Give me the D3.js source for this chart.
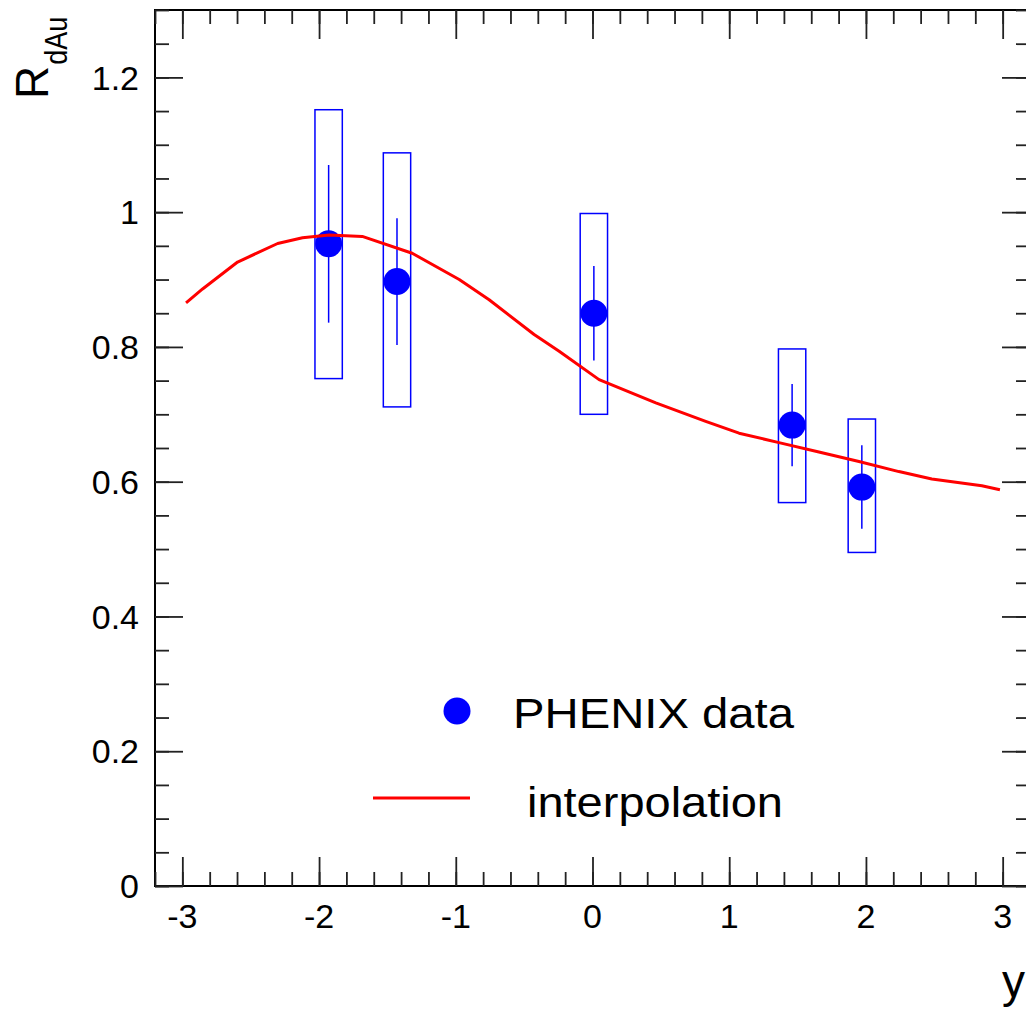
<!DOCTYPE html>
<html>
<head>
<meta charset="utf-8">
<script src="https://d3js.org/d3.v7.min.js"></script>
<style>
  html, body { margin: 0; padding: 0; background: #fff; }
  svg { display: block; }
  text { font-family: "Liberation Sans", Arial, Helvetica, sans-serif; }
</style>
</head>
<body>
<svg id="chart" width="1026" height="1011"></svg>
<script>
// ---- data ----
const dataY     = [-1.93, -1.43, 0.01, 1.46, 1.97];
const dataR     = [0.953, 0.897, 0.850, 0.684, 0.592];
const statErr   = [0.117, 0.094, 0.070, 0.061, 0.062];
const sysLow    = [0.753, 0.711, 0.700, 0.569, 0.495];
const sysHigh   = [1.152, 1.088, 0.998, 0.797, 0.693];
const sysHalfWidth = 0.1;

const curveY = [-2.973, -2.852, -2.596, -2.303, -2.121, -1.925, -1.684, -1.319, -0.975, -0.756,
                -0.427, -0.244, 0.048, 0.463, 0.828, 1.072, 1.364, 1.656, 1.949, 2.241,
                2.482, 2.848, 2.980];
const curveR = [0.8655, 0.886, 0.926, 0.9535, 0.962, 0.966, 0.964, 0.939, 0.900, 0.870,
                0.8185, 0.7935, 0.7515, 0.717, 0.6896, 0.672, 0.658, 0.644, 0.630, 0.615,
                0.604, 0.594, 0.588];

const xMajorTicks = [-3, -2, -1, 0, 1, 2, 3];
const xTickLabels = ["-3", "-2", "-1", "0", "1", "2", "3"];
const yMajorTicks = [0, 0.2, 0.4, 0.6, 0.8, 1.0, 1.2];
const yTickLabels = ["0", "0.2", "0.4", "0.6", "0.8", "1", "1.2"];
const xMinorTicks = d3.range(-32, 33, 2).map(v => v / 10);
const yMinorTicks = d3.range(0, 27, 1).map(v => v * 0.05);

const legendLabels = ["PHENIX data", "interpolation"];
const xTitle = "y";

// ---- layout ----
const L = 155, R = 1030, T = 10, B = 886;
const x = d3.scaleLinear().domain([-3.2, 3.2]).range([L, R]);
const y = d3.scaleLinear().domain([0, 1.3]).range([B, T]);

const svg = d3.select("#chart");

// frame
svg.append("rect").attr("x", L).attr("y", T).attr("width", R - L).attr("height", B - T)
  .attr("fill", "none").attr("stroke", "#000").attr("stroke-width", 2);

function tickGroup(axisFn, scale, values, size, transform) {
  const g = svg.append("g").attr("transform", transform)
    .call(axisFn(scale).tickValues(values).tickSize(size).tickSizeOuter(0).tickFormat(""));
  g.select(".domain").remove();
  g.selectAll(".tick line").attr("stroke", "#222").attr("stroke-width", 1.8);
  return g;
}
// bottom / top
tickGroup(d3.axisBottom, x, xMinorTicks, -14, `translate(0,${B})`);
tickGroup(d3.axisBottom, x, xMajorTicks, -29, `translate(0,${B})`);
tickGroup(d3.axisTop, x, xMinorTicks, -14, `translate(0,${T})`);
tickGroup(d3.axisTop, x, xMajorTicks, -29, `translate(0,${T})`);
// left / right
tickGroup(d3.axisLeft, y, yMinorTicks, -14, `translate(${L},0)`);
tickGroup(d3.axisLeft, y, yMajorTicks, -28, `translate(${L},0)`);
tickGroup(d3.axisRight, y, yMinorTicks, -14, `translate(${R},0)`);
tickGroup(d3.axisRight, y, yMajorTicks, -28, `translate(${R},0)`);

// tick labels
svg.append("g").selectAll("text").data(xMajorTicks).join("text")
  .attr("x", d => x(d)).attr("y", 928).attr("text-anchor", "middle")
  .attr("font-size", 34).attr("fill", "#000")
  .text((d, i) => xTickLabels[i]);
svg.append("g").selectAll("text").data(yMajorTicks).join("text")
  .attr("x", 139).attr("y", d => y(d)).attr("dy", "0.36em").attr("text-anchor", "end")
  .attr("font-size", 34).attr("fill", "#000")
  .text((d, i) => yTickLabels[i]);

// axis titles
const yt = svg.append("text").attr("transform", "translate(48,99) rotate(-90)")
  .attr("fill", "#000");
yt.append("tspan").attr("font-size", 46).text("R");
yt.append("tspan").attr("font-size", 32).attr("dy", 19).attr("dx", 1)
  .attr("textLength", 48).attr("lengthAdjust", "spacingAndGlyphs").text("dAu");
svg.append("text").attr("x", 1025).attr("y", 997).attr("text-anchor", "end")
  .attr("font-size", 46).attr("fill", "#000").text(xTitle);

// systematic boxes
const pts = dataY.map((v, i) => ({ x: v, r: dataR[i], e: statErr[i], lo: sysLow[i], hi: sysHigh[i] }));
svg.append("g").selectAll("rect").data(pts).join("rect")
  .attr("x", d => x(d.x - sysHalfWidth)).attr("y", d => y(d.hi))
  .attr("width", d => x(d.x + sysHalfWidth) - x(d.x - sysHalfWidth))
  .attr("height", d => y(d.lo) - y(d.hi))
  .attr("fill", "none").attr("stroke", "#0000ff").attr("stroke-width", 1.5);
// stat errors
svg.append("g").selectAll("line").data(pts).join("line")
  .attr("x1", d => x(d.x)).attr("x2", d => x(d.x))
  .attr("y1", d => y(d.r + d.e)).attr("y2", d => y(d.r - d.e))
  .attr("stroke", "#0000ff").attr("stroke-width", 1.5);
// markers
svg.append("g").selectAll("circle").data(pts).join("circle")
  .attr("cx", d => x(d.x)).attr("cy", d => y(d.r)).attr("r", 13.5)
  .attr("fill", "#0000ff");

// interpolation curve
const line = d3.line().x(d => x(d[0])).y(d => y(d[1]));
svg.append("path").datum(curveY.map((v, i) => [v, curveR[i]]))
  .attr("d", line).attr("fill", "none").attr("stroke", "#ff0000").attr("stroke-width", 3)
  .attr("stroke-linejoin", "round");

// legend
svg.append("circle").attr("cx", 457).attr("cy", 711).attr("r", 13.5).attr("fill", "#0000ff");
svg.append("text").attr("x", 513).attr("y", 728).attr("font-size", 43)
  .attr("textLength", 281).attr("lengthAdjust", "spacingAndGlyphs")
  .attr("fill", "#000").text(legendLabels[0]);
svg.append("line").attr("x1", 373).attr("x2", 470).attr("y1", 798).attr("y2", 798)
  .attr("stroke", "#ff0000").attr("stroke-width", 3);
svg.append("text").attr("x", 527).attr("y", 817).attr("font-size", 43)
  .attr("textLength", 256).attr("lengthAdjust", "spacingAndGlyphs")
  .attr("fill", "#000").text(legendLabels[1]);
</script>
</body>
</html>
